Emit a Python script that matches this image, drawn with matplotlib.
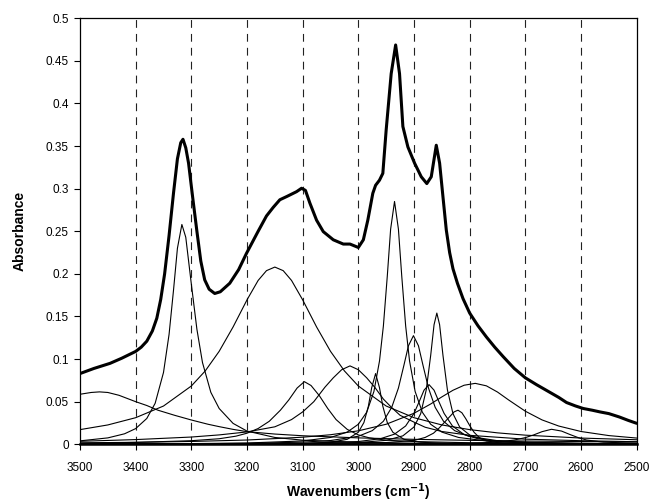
import matplotlib
matplotlib.use("Agg")
import matplotlib.pyplot as plt
import numpy as np

plt.rcParams['font.family'] = ['Liberation Sans', 'DejaVu Sans']

# measured spectrum (thick line)
total_wn = [3500, 3475, 3446, 3425, 3400, 3390, 3380, 3370, 3362, 3355, 3348, 3340,
            3332, 3325, 3319, 3315, 3310, 3305, 3298, 3290, 3283, 3276, 3268, 3258,
            3248, 3231, 3215, 3201, 3180, 3165, 3153, 3141, 3128, 3111, 3102, 3095, 3087,
            3075, 3063, 3045, 3027, 3015, 3000, 2991, 2983, 2974, 2969, 2962, 2956,
            2950, 2941, 2933, 2926, 2920, 2911, 2899, 2887, 2877, 2869, 2860, 2854,
            2848, 2842, 2836, 2830, 2822, 2812, 2800, 2785, 2770, 2755, 2740, 2720, 2700,
            2680, 2656, 2640, 2626, 2610, 2596, 2580, 2566, 2550, 2531, 2515, 2500]
total_abs = [0.083, 0.089, 0.095, 0.101, 0.109, 0.114, 0.121, 0.133, 0.148, 0.170, 0.200, 0.245,
             0.295, 0.335, 0.354, 0.358, 0.348, 0.330, 0.292, 0.250, 0.215, 0.193, 0.182, 0.177,
             0.179, 0.189, 0.205, 0.224, 0.250, 0.268, 0.278, 0.287, 0.291, 0.2965, 0.3005, 0.298, 0.283,
             0.263, 0.2496, 0.240, 0.235, 0.235, 0.231, 0.240, 0.263, 0.2946, 0.304, 0.310, 0.318,
             0.369, 0.435, 0.4687, 0.435, 0.373, 0.349, 0.330, 0.314, 0.306, 0.314, 0.351, 0.330,
             0.2906, 0.2515, 0.225, 0.206, 0.189, 0.171, 0.154, 0.139, 0.126, 0.114, 0.103, 0.089, 0.078,
             0.070, 0.061, 0.055, 0.049, 0.045, 0.042, 0.040, 0.038, 0.036, 0.032, 0.028, 0.0246]

# fitted component bands (thin lines)
comp_a_wn = [3500, 3480, 3465, 3450, 3430, 3400, 3380, 3360, 3330, 3300, 3270, 3250, 3225, 3200,
             3150, 3100, 3000, 2900, 2800, 2700, 2600, 2500]
comp_a_abs = [0.0587, 0.0608, 0.0615, 0.0608, 0.0575, 0.050, 0.0455, 0.040, 0.034, 0.0285, 0.0235,
              0.0207, 0.0175, 0.0148, 0.012, 0.010, 0.0075, 0.0058, 0.0046, 0.0038, 0.0032, 0.0027]

comp_b_wn = [3500, 3450, 3420, 3400, 3380, 3365, 3350, 3340, 3332, 3325, 3317, 3310, 3300, 3290,
             3280, 3265, 3250, 3225, 3200, 3150, 3100, 3000, 2900, 2700, 2500]
comp_b_abs = [0.0040, 0.0075, 0.0123, 0.0184, 0.0303, 0.0481, 0.0843, 0.129, 0.181, 0.230, 0.258,
              0.243, 0.188, 0.135, 0.096, 0.061, 0.042, 0.0245, 0.0155, 0.008, 0.0048, 0.0023,
              0.0013, 0.0006, 0.0003]

comp_c_wn = [3500, 3450, 3400, 3350, 3300, 3275, 3250, 3225, 3200, 3180, 3165, 3150, 3135, 3120,
             3100, 3075, 3050, 3025, 3000, 2950, 2900, 2850, 2800, 2750, 2700, 2600, 2500]
comp_c_abs = [0.0172, 0.0227, 0.0312, 0.0449, 0.0684, 0.0861, 0.1091, 0.1377, 0.1695, 0.1923,
              0.2038, 0.208, 0.2038, 0.1923, 0.1695, 0.1377, 0.1091, 0.0861, 0.0684, 0.0449,
              0.0312, 0.0227, 0.0172, 0.0134, 0.0107, 0.0073, 0.0053]

comp_d_wn = [3500, 3400, 3300, 3250, 3220, 3200, 3180, 3160, 3140, 3125, 3110, 3097, 3085, 3070,
             3055, 3040, 3020, 3000, 2980, 2950, 2900, 2800, 2700, 2500]
comp_d_abs = [0.0012, 0.0022, 0.0042, 0.0065, 0.0095, 0.013, 0.0185, 0.027, 0.040, 0.052, 0.066,
              0.0735, 0.069, 0.057, 0.042, 0.029, 0.0175, 0.011, 0.0075, 0.0048, 0.0032, 0.0018,
              0.0012, 0.0007]

comp_e_wn = [3500, 3400, 3300, 3250, 3200, 3150, 3120, 3100, 3080, 3060, 3045, 3030, 3015, 3000,
             2985, 2970, 2955, 2940, 2925, 2900, 2880, 2850, 2800, 2700, 2600, 2500]
comp_e_abs = [0.0035, 0.0055, 0.0085, 0.011, 0.0145, 0.0205, 0.029, 0.038, 0.050, 0.067, 0.078,
              0.0875, 0.092, 0.0875, 0.078, 0.0665, 0.053, 0.043, 0.034, 0.026, 0.020, 0.015,
              0.0105, 0.006, 0.0042, 0.003]

comp_f_wn = [3500, 3200, 3100, 3050, 3020, 3000, 2990, 2982, 2976, 2969, 2962, 2956, 2948, 2938,
             2918, 2888, 2838, 2750, 2500]
comp_f_abs = [0.0001, 0.0003, 0.0009, 0.0024, 0.0058, 0.0141, 0.0255, 0.0446, 0.0664, 0.083,
              0.0664, 0.0446, 0.0255, 0.0141, 0.0058, 0.0024, 0.0009, 0.0003, 0.0001]

comp_g_wn = [3500, 3300, 3200, 3100, 3050, 3020, 3000, 2985, 2972, 2962, 2955, 2948, 2942, 2935,
             2928, 2922, 2915, 2908, 2898, 2885, 2870, 2850, 2820, 2770, 2670, 2570, 2500]
comp_g_abs = [0.0003, 0.0008, 0.0015, 0.0039, 0.008, 0.0143, 0.0235, 0.0376, 0.062, 0.0977,
              0.1389, 0.1973, 0.2525, 0.285, 0.2525, 0.1973, 0.1389, 0.0977, 0.062, 0.0376,
              0.0235, 0.0143, 0.008, 0.0039, 0.0015, 0.0008, 0.0006]

comp_h_wn = [3500, 3300, 3200, 3100, 3050, 3000, 2975, 2955, 2940, 2928, 2918, 2910, 2901, 2892,
             2884, 2874, 2862, 2847, 2827, 2802, 2752, 2702, 2602, 2500]
comp_h_abs = [0.0003, 0.0006, 0.0011, 0.0025, 0.0044, 0.0094, 0.016, 0.027, 0.0434, 0.066,
              0.0931, 0.1156, 0.1275, 0.1156, 0.0931, 0.066, 0.0434, 0.027, 0.016, 0.0094,
              0.0044, 0.0025, 0.0011, 0.0006]

comp_i_wn = [3500, 3200, 3100, 3000, 2950, 2920, 2900, 2888, 2878, 2870, 2864, 2859, 2854, 2848,
             2840, 2830, 2818, 2798, 2768, 2717, 2617, 2500]
comp_i_abs = [0.0001, 0.0003, 0.0007, 0.002, 0.0046, 0.0099, 0.0203, 0.0359, 0.0639, 0.1045,
              0.1403, 0.154, 0.1403, 0.1045, 0.0639, 0.0359, 0.0203, 0.0099, 0.0046, 0.002,
              0.0007, 0.0003]

comp_j_wn = [3500, 3300, 3200, 3100, 3000, 2960, 2935, 2915, 2900, 2890, 2882, 2873, 2864, 2856,
             2846, 2831, 2811, 2786, 2746, 2646, 2546, 2500]
comp_j_abs = [0.0001, 0.0003, 0.0005, 0.001, 0.0032, 0.0066, 0.0119, 0.0215, 0.0363, 0.0511,
              0.0635, 0.070, 0.0635, 0.0511, 0.0363, 0.0215, 0.0119, 0.0066, 0.0032, 0.001,
              0.0005, 0.0004]

comp_k_wn = [3500, 3200, 3000, 2950, 2900, 2880, 2865, 2855, 2845, 2835, 2828, 2821, 2814, 2807,
             2800, 2792, 2782, 2770, 2750, 2700, 2600, 2500]
comp_k_abs = [0.0002, 0.0006, 0.0014, 0.002, 0.0045, 0.008, 0.013, 0.019, 0.026, 0.033, 0.038,
              0.040, 0.037, 0.030, 0.022, 0.014, 0.0075, 0.004, 0.002, 0.001, 0.0004, 0.0002]

comp_l_wn = [3500, 3400, 3300, 3200, 3100, 3050, 3000, 2950, 2900, 2870, 2850, 2830, 2810, 2790,
             2770, 2750, 2730, 2700, 2670, 2640, 2600, 2550, 2500]
comp_l_abs = [0.0017, 0.0023, 0.0033, 0.005, 0.0083, 0.0112, 0.0158, 0.0235, 0.0364, 0.0473,
              0.0556, 0.0634, 0.0693, 0.0715, 0.0686, 0.0613, 0.052, 0.0388, 0.0286, 0.0214,
              0.015, 0.0102, 0.0073]

comp_m_wn = [3500, 3000, 2800, 2750, 2720, 2700, 2685, 2670, 2653, 2635, 2620, 2605, 2590, 2560,
             2500]
comp_m_abs = [0.0002, 0.0005, 0.0012, 0.0025, 0.005, 0.0078, 0.011, 0.0148, 0.0176, 0.0155,
              0.0115, 0.0078, 0.005, 0.0025, 0.0012]

components = [
    (comp_a_wn, comp_a_abs), (comp_b_wn, comp_b_abs), (comp_c_wn, comp_c_abs),
    (comp_d_wn, comp_d_abs), (comp_e_wn, comp_e_abs), (comp_f_wn, comp_f_abs),
    (comp_g_wn, comp_g_abs), (comp_h_wn, comp_h_abs), (comp_i_wn, comp_i_abs),
    (comp_j_wn, comp_j_abs), (comp_k_wn, comp_k_abs), (comp_l_wn, comp_l_abs),
    (comp_m_wn, comp_m_abs),
]

x_ticks = list(range(3500, 2499, -100))
y_ticks = [0, 0.05, 0.1, 0.15, 0.2, 0.25, 0.3, 0.35, 0.4, 0.45, 0.5]
grid_lines = list(range(3400, 2599, -100))

fig = plt.figure(figsize=(6.52, 5.04), dpi=100)
ax = fig.add_axes([0.1227, 0.1185, 0.8538, 0.8452])

for g in grid_lines:
    ax.axvline(g, color='#222222', lw=0.8, linestyle=(0, (7, 5.5)), zorder=1)

for wn, ab in components:
    ax.plot(wn, ab, color='black', lw=0.8, zorder=2)

ax.plot(total_wn, total_abs, color='black', lw=2.2, zorder=3,
        solid_joinstyle='round', solid_capstyle='round')

ax.set_xlim(3500, 2500)
ax.set_ylim(0, 0.5)
ax.set_xticks(x_ticks)
ax.set_xticklabels([str(t) for t in x_ticks])
ax.set_yticks(y_ticks)
ax.set_yticklabels(['{:g}'.format(t) for t in y_ticks])
ax.tick_params(direction='out', length=4, width=0.8, labelsize=8.5)
ax.tick_params(axis='x', pad=9)
ax.tick_params(axis='y', pad=4)

for s in ax.spines.values():
    s.set_linewidth(0.9)
ax.spines['bottom'].set_linewidth(1.8)

ax.set_xlabel('Wavenumbers (cm$^{\\mathbf{-1}}$)', fontsize=10, fontweight='bold', labelpad=5)
ax.set_ylabel('Absorbance', fontsize=10, fontweight='bold', labelpad=14)

fig.savefig('out.png', dpi=100)
